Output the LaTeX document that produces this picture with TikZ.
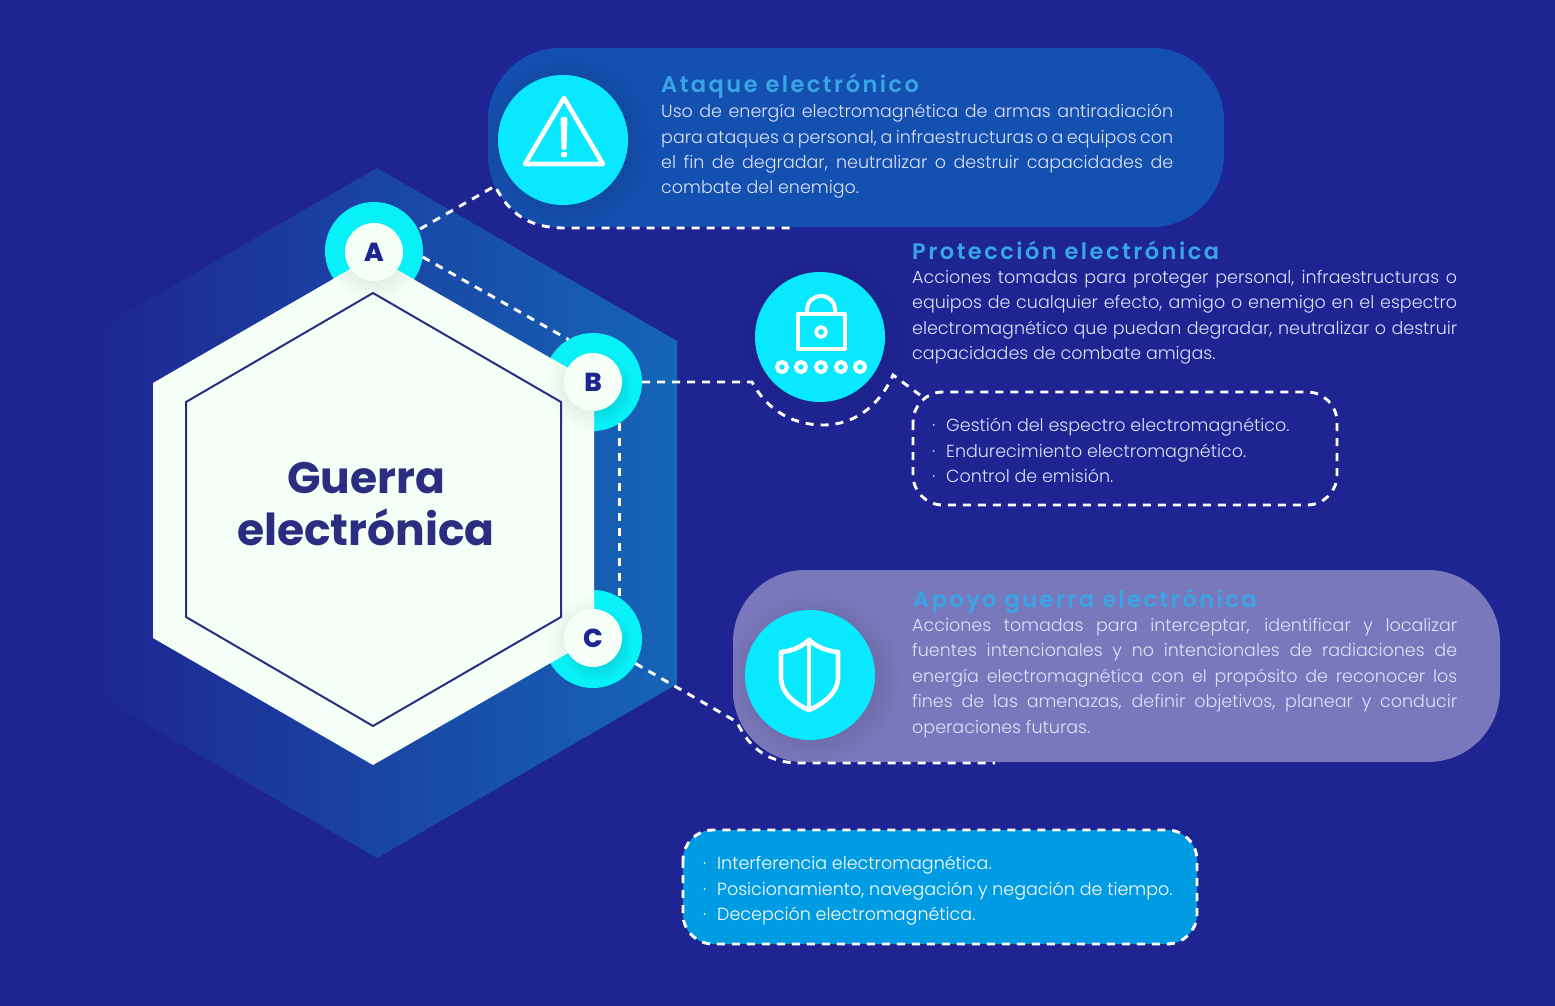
\documentclass[tikz,border=0pt]{standalone}
\usepackage{fontspec}
\setmainfont{Poppins Light}
\newfontfamily\titlef[LetterSpace=11]{Poppins SemiBold}
\newfontfamily\headf{Poppins Bold}
\newfontfamily\letf{Poppins ExtraBold}
\definecolor{bg}{HTML}{1E2491}
\definecolor{hexr}{HTML}{1565B8}
\definecolor{pillA}{HTML}{1450B0}
\definecolor{pillC}{HTML}{7A78BC}
\definecolor{cyanA}{HTML}{08E8FF}
\definecolor{ring}{HTML}{08F0F8}
\definecolor{paper}{HTML}{F5FFF7}
\definecolor{ink}{HTML}{2B2D80}
\definecolor{ttl}{HTML}{38A5E5}
\definecolor{body}{HTML}{DCE2FA}
\definecolor{boxB}{HTML}{009CE3}
\tikzset{
 x=1pt,y=-1pt,
 conn/.style={draw=white,line width=2.9pt,dash pattern=on 8pt off 7pt},
 ringc/.style={circle,minimum size=98pt,inner sep=0pt,outer sep=0pt,fill=ring},
 letc/.style={circle,minimum size=58pt,inner sep=0pt,fill=paper,text=bg,font=\letf\fontsize{26}{26}\selectfont},
 iconc/.style={circle,minimum size=130pt,inner sep=0pt,fill=cyanA},
 ico/.style={draw=white,line width=4.6pt,line join=round,line cap=round},
 para/.style={anchor=north west,inner sep=0pt,align=left,text=body,font=\fontsize{17.5}{25.4}\selectfont},
 ttlc/.style={anchor=base west,inner sep=0pt,text=ttl,font=\titlef\fontsize{22.5}{23}\selectfont},
}
\newcommand{\jl}[2]{\makebox[#1pt][s]{#2}\\}
\newcommand{\bul}{\makebox[14pt][l]{·}}
\begin{document}
\begin{tikzpicture}
\useasboundingbox (0,0) rectangle (1555,1006);
\fill[bg] (0,0) rectangle (1555,1006);
% large hexagon
\shade[left color=bg,right color=hexr,shading angle=90] (377,168)--(677,341)--(677,684)--(377,858)--(77,684)--(77,341)--cycle;
% rings
\node[ringc] (nA) at (374,251) {};
\node[ringc] (nB) at (593,382) {};
\node[ringc] (nC) at (593,639) {};
\shade[inner color=ring!75!black,outer color=ring] (596,644) circle (37);
\shade[inner color=ring!75!black,outer color=ring] (596,388) circle (37);
% white hexagon
\fill[paper] (373,256)--(594,383)--(594,638)--(373,765)--(153,638)--(153,383)--cycle;
\begin{scope}
\clip (373,256)--(594,383)--(594,638)--(373,765)--(153,638)--(153,383)--cycle;
\shade[inner color=black!14!paper,outer color=paper] (374,255) circle (48);
\shade[inner color=black!14!paper,outer color=paper] (593,385) circle (48);
\shade[inner color=black!14!paper,outer color=paper] (593,642) circle (48);
\end{scope}
\draw[ink,line width=2pt,line join=miter] (373,293)--(561,402)--(561,617)--(373,726)--(186,617)--(186,402)--cycle;
\node[letc] (lA) at (374,252) {A};
\node[letc] (lB) at (593,382) {B};
\node[letc] (lC) at (593,638) {C};
\node[inner sep=0pt,align=center,text=ink,font=\headf\fontsize{44}{52}\selectfont] (title) at (366,504) {Guerra\\electrónica};
% pills
\fill[pillA,rounded corners=72pt] (488,48) rectangle (1224,227);
\fill[pillC,rounded corners=72pt] (733,570) rectangle (1500,762);
\begin{scope}
\clip[rounded corners=72pt] (488,48) rectangle (1224,227);
\shade[inner color=pillA!70!black,outer color=pillA] (567,143) circle (88);
\end{scope}
\begin{scope}
\clip[rounded corners=72pt] (733,570) rectangle (1500,762);
\shade[inner color=pillC!70!black,outer color=pillC] (814,678) circle (88);
\end{scope}
\shade[inner color=bg!88!black,outer color=bg] (824,340) circle (88);
% icon discs
\node[iconc] (iA) at (563,140) {};
\node[iconc] (iB) at (820,337) {};
\node[iconc] (iC) at (810,675) {};
% warning icon
\draw[ico] (564,98)--(603,164)--(525,164)--cycle;
\fill[white,rounded corners=1.5pt] (560.5,117) -- (567.5,117) -- (566.5,150) -- (561.5,150) -- cycle;
\fill[white,rounded corners=1pt] (561,152) rectangle (567,157);
% lock icon
\draw[ico,line width=4pt] (798,314) rectangle (845,349);
\draw[ico,line width=4pt] (807,313) -- (807,309) arc[start angle=180,end angle=0,x radius=14,y radius=-13] -- (835,313);
\draw[white,line width=3.6pt] (821,332) circle (5);
\foreach \px in {782,801,821,841,860}{
 \draw[white,line width=4pt] (\px,367) circle (5);
}
% shield icon
\draw[ico] (809,640) .. controls (818,648) and (828,651) .. (838,652) -- (838,678) .. controls (838,692) and (825,703) .. (809,710) .. controls (793,703) and (781,692) .. (781,678) -- (781,652) .. controls (791,651) and (800,648) .. (809,640) -- cycle;
\draw[ico] (809,640) -- (809,710);
% named free ends
\coordinate (eA0) at (420,229);
\coordinate (eA1) at (495,186);
\coordinate (eA2) at (795,228);
\coordinate (eB1) at (752,382);
\coordinate (eB2) at (893,375);
\coordinate (eB3) at (920,395);
\coordinate (eC1) at (737,722);
\coordinate (eC2) at (995,763);
% connectors
\draw[conn] (eA0) -- (eA1) .. controls (510,215) and (530,228) .. (565,228) -- (eA2);
\draw[conn] (nA.-7) -- (nB.120);
\draw[conn] (nB.-57) -- (nC.57);
\draw[conn] (nB.0) -- (eB1) .. controls (768,412) and (795,425) .. (823,425) .. controls (855,425) and (880,405) .. (eB2) -- (eB3);
\draw[conn] (nC.-30) -- (eC1) .. controls (750,750) and (770,763) .. (800,763) -- (eC2);
% boxes
\draw[conn,rounded corners=30pt] (913,392) rectangle (1337,505);
\fill[boxB,rounded corners=30pt] (683,830) rectangle (1197,944);
\draw[conn,rounded corners=30pt] (683,830) rectangle (1197,944);
% texts
\node[ttlc] (t1) at (661,93) {Ataque electrónico};
\node[para] (p1) at (661,104) {\jl{512}{Uso de energía electromagnética de armas antiradiación}\jl{512}{para ataques a personal, a infraestructuras o a equipos con}\jl{512}{el fin de degradar, neutralizar o destruir capacidades de}combate del enemigo.};
\node[ttlc] (t2) at (912,259) {Protección electrónica};
\node[para] (p2) at (912,270) {\jl{545}{Acciones tomadas para proteger personal, infraestructuras o}\jl{545}{equipos de cualquier efecto, amigo o enemigo en el espectro}\jl{545}{electromagnético que puedan degradar, neutralizar o destruir}capacidades de combate amigas.};
\node[ttlc] (t3) at (913,607) {Apoyo guerra electrónica};
\node[para] (p3) at (912,618) {\jl{545}{Acciones tomadas para interceptar, identificar y localizar}\jl{545}{fuentes intencionales y no intencionales de radiaciones de}\jl{545}{energía electromagnética con el propósito de reconocer los}\jl{545}{fines de las amenazas, definir objetivos, planear y conducir}operaciones futuras.};
\node[para] (l1) at (932,418) {\bul Gestión del espectro electromagnético.\\\bul Endurecimiento electromagnético.\\\bul Control de emisión.};
\node[para,text=white] (l2) at (703,856) {\bul Interferencia electromagnética.\\\bul Posicionamiento, navegación y negación de tiempo.\\\bul Decepción electromagnética.};
\end{tikzpicture}
\end{document}
